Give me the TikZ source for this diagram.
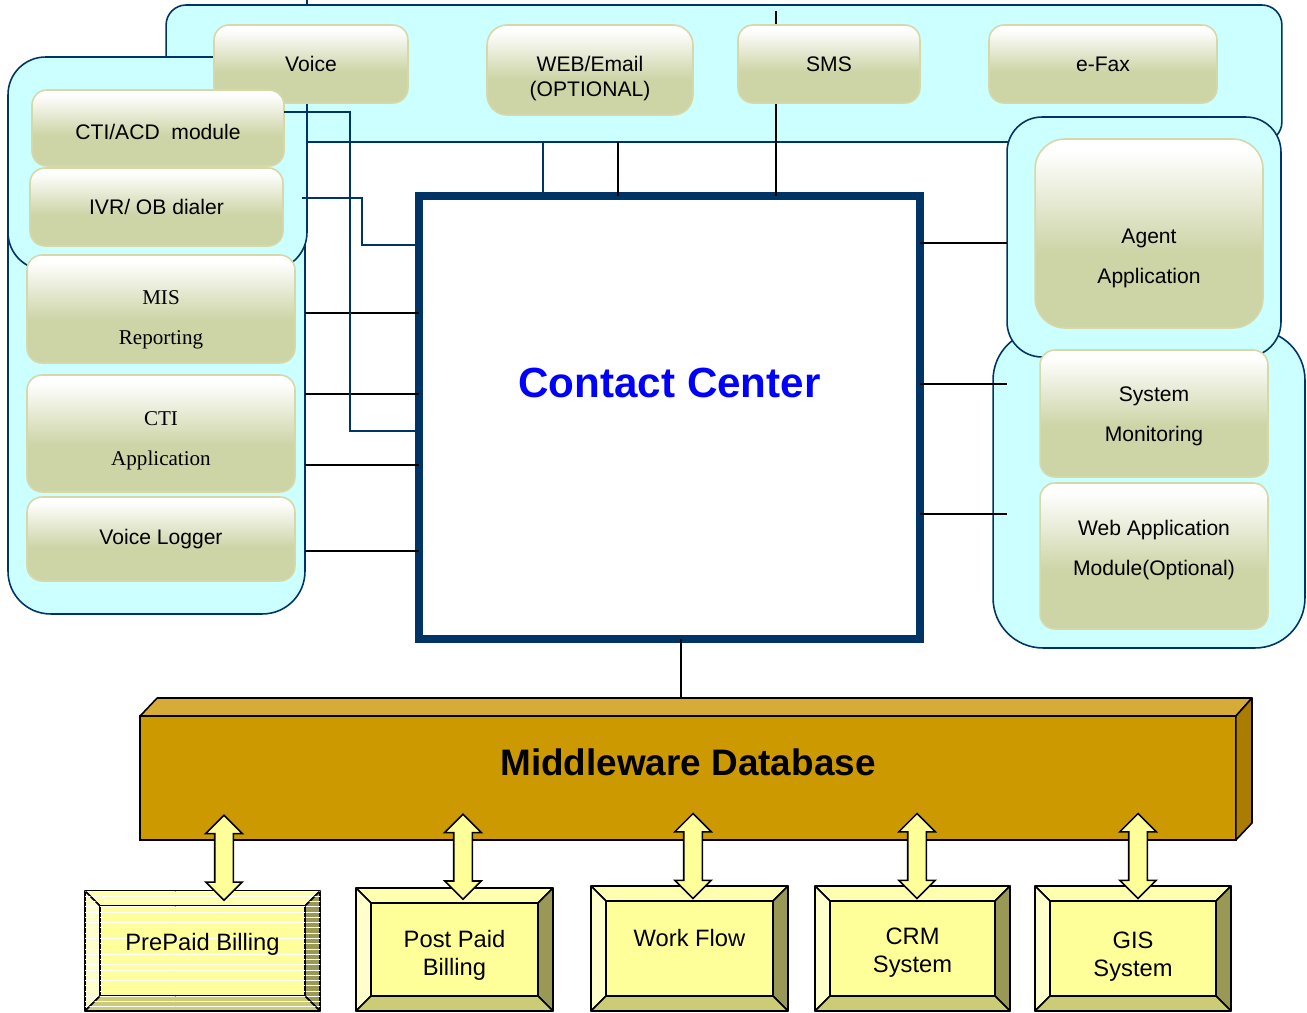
\documentclass[tikz,border=0pt]{standalone}
\usepackage{fontspec}
\setmainfont{Liberation Sans}
\newfontfamily\timesface{Liberation Serif}
\usetikzlibrary{shapes.arrows,patterns}
\definecolor{PanelFill}{HTML}{CCFFFF}
\definecolor{PanelLine}{HTML}{003366}
\definecolor{ModOlive}{HTML}{CDD4A6}
\definecolor{ModLine}{HTML}{D6D8A8}
\definecolor{CCBlue}{HTML}{0000FF}
\definecolor{DbFront}{HTML}{CC9900}
\definecolor{DbTop}{HTML}{D6AB38}
\definecolor{DbSide}{HTML}{AA7D00}
\definecolor{BevTop}{HTML}{FFFFB0}
\definecolor{BevLeft}{HTML}{FFFFCC}
\definecolor{BevRight}{HTML}{999955}
\definecolor{BevBottom}{HTML}{CCCC77}
\definecolor{BevFace}{HTML}{FFFF99}
\pgfdeclareverticalshading{modshade}{100bp}{color(0bp)=(ModOlive); color(45bp)=(ModOlive); color(72bp)=(white); color(100bp)=(white)}

\tikzset{
  panel/.style={draw=PanelLine, fill=PanelFill, line width=0.9pt, inner sep=0pt, outer sep=0pt},
  module/.style={draw=ModLine, line width=0.9pt, shading=modshade, rounded corners=0.3cm,
    inner sep=0pt, outer sep=0pt, align=center, font=\fontsize{12}{14.5}\selectfont},
  short/.style={align=center, font=\fontsize{12}{14.5}\selectfont},
  tall/.style={align=center, font=\fontsize{12}{23}\selectfont},
  serif tall/.style={align=center, font=\timesface\fontsize{12}{23}\selectfont},
  wire/.style={line width=0.8pt},
  bluewire/.style={draw=PanelLine, line width=0.8pt},
  ccbox/.style={draw=PanelLine, line width=4.5pt, fill=white, inner sep=0pt, outer sep=0pt},
  cctitle/.style={text=CCBlue, font=\fontsize{24}{28}\selectfont\bfseries},
  dbfront/.style={draw=black, fill=DbFront, line width=0.9pt, inner sep=0pt, outer sep=0pt},
  dbface/.style={draw=black, line width=0.9pt, line join=round},
  dbtitle/.style={font=\fontsize{21}{25}\selectfont\bfseries},
  bevelbox/.style={inner sep=0pt, outer sep=0pt},
  bevel/.style={draw=black, line width=0.9pt, line join=round},
  stripes/.style={postaction={pattern=horizontal lines, pattern color=white}},
  nostripes/.style={},
  billtext/.style={align=center, font=\fontsize{13.5}{16}\selectfont},
  fatarrow/.style={double arrow, draw=black, fill=BevFace, line width=0.9pt, sloped,
    minimum height=1.7cm, minimum width=0.72cm, text height=0.17cm, text depth=0.17cm,
    double arrow head extend=0.18cm, inner sep=0pt}
}

\begin{document}
\begin{tikzpicture}[x=0.02cm, y=-0.02cm]
    \useasboundingbox (0,0) rectangle (1307,1013);

    % Panels
    \node[panel, rounded corners=0.4cm, minimum width=22.32cm, minimum height=2.74cm] (topbar) at (724,73.5) {};
    \node[panel, rounded corners=0.85cm, minimum width=5.94cm, minimum height=9.28cm] (leftlow) at (156.5,382) {};
    \node[panel, rounded corners=0.75cm, minimum width=5.98cm, minimum height=4.26cm] (leftup) at (157.5,163.5) {};
    \node[panel, rounded corners=1cm, minimum width=6.24cm, minimum height=6.36cm] (rightlow) at (1149,489) {};
    \node[panel, rounded corners=0.7cm, minimum width=5.48cm, minimum height=4.8cm] (rightup) at (1144,237) {};

    % Contact Center
    \node[ccbox, minimum width=10.02cm, minimum height=8.86cm,
        label={[cctitle, yshift=0.69cm]center:Contact Center}] (cc) at (669.5,417.5) {};

    % Wires to the top
    \draw[bluewire] (307,0) -- (topbar.north -| 307,0);
    \draw[wire] (776,11) -- (cc.north -| 776,0);
    \draw[bluewire] (topbar.south -| 543,0) -- (cc.north -| 543,0);
    \draw[wire] (topbar.south -| 618,0) -- (cc.north -| 618,0);

    % Wires on the left
    \coordinate (ivrout) at (302,198);
    \draw[bluewire] (ivrout) -| (362,245) -- (cc.west |- 0,245);
    \draw[wire] (leftlow.east |- 0,313) -- (cc.west |- 0,313);
    \draw[wire] (leftlow.east |- 0,394) -- (cc.west |- 0,394);
    \draw[wire] (leftlow.east |- 0,465) -- (cc.west |- 0,465);
    \draw[wire] (leftlow.east |- 0,551) -- (cc.west |- 0,551);

    % Wires on the right
    \draw[wire] (cc.east |- 0,243) -- (rightup.west |- 0,243);
    \draw[wire] (cc.east |- 0,384) -- (rightup.west |- 0,384);
    \draw[wire] (cc.east |- 0,514) -- (rightup.west |- 0,514);

    % Modules
    \node[module, minimum width=3.88cm, minimum height=1.56cm] (voice) at (311,64) {Voice};
    \node[module, rounded corners=0.4cm, minimum width=4.12cm, minimum height=1.8cm,
        label={[short, yshift=-0.17cm]center:WEB/Email\\(OPTIONAL)}] (web) at (590,70) {};
    \node[module, minimum width=3.64cm, minimum height=1.56cm] (sms) at (829,64) {SMS};
    \node[module, minimum width=4.56cm, minimum height=1.56cm] (efax) at (1103,64) {e-Fax};
    \node[module, minimum width=5.04cm, minimum height=1.52cm,
        label={[short, yshift=-0.07cm]center:CTI/ACD\ \ module}] (ctiacd) at (158,128) {};
    \node[module, minimum width=5.06cm, minimum height=1.56cm] (ivr) at (156.5,207) {IVR/ OB dialer};
    \node[module, minimum width=5.36cm, minimum height=2.16cm,
        label={[serif tall, yshift=-0.22cm]center:MIS\\Reporting}] (mis) at (161,309) {};
    \node[module, minimum width=5.36cm, minimum height=2.34cm,
        label={[serif tall, yshift=-0.14cm]center:CTI\\Application}] (ctiapp) at (161,433.5) {};
    \node[module, minimum width=5.36cm, minimum height=1.68cm] (logger) at (161,539) {Voice Logger};
    \node[module, rounded corners=0.6cm, minimum width=4.56cm, minimum height=3.78cm,
        label={[tall, yshift=-0.5cm]center:Agent\\Application}] (agent) at (1149,233.5) {};
    \node[module, tall, minimum width=4.56cm, minimum height=2.54cm,
        label={[tall, yshift=-0.06cm]center:System\\Monitoring}] (sysmon) at (1154,413.5) {};
    \node[module, minimum width=4.56cm, minimum height=2.92cm,
        label={[tall, yshift=0.12cm]center:Web Application\\Module(Optional)}] (webapp) at (1154,556) {};

    % CTI/ACD link (over the panels)
    \draw[bluewire] (ctiacd.east |- 0,112) -| (350,431) -- (cc.west |- 0,431);

    % Middleware database
    \draw[wire] (cc.south -| 681,0) -- (681,716);
    \node[dbfront, minimum width=21.92cm, minimum height=2.48cm,
        label={[dbtitle, yshift=0.31cm]center:Middleware Database}] (db) at (688,778) {};
    \draw[dbface, fill=DbTop] (db.north west) -- ++(17,-18) -- (1252,698) -- (db.north east) -- cycle;
    \draw[dbface, fill=DbSide] (db.north east) -- (1252,698) -- (1252,823) -- (db.south east) -- cycle;

    % Billing and back-end systems
    \foreach \nm/\cx/\cy/\w/\h/\st/\ty/\txt in {
        prepaid/202.5/951/235/120/stripes/0.14/{PrePaid Billing},
        postpaid/454.5/949.5/197/123/nostripes/-0.11/{Post Paid\\Billing},
        workflow/689.5/948.5/197/125/nostripes/0.21/{Work Flow},
        crm/912.5/948.5/195/125/nostripes/-0.09/{CRM\\System},
        gis/1133/948.5/196/125/nostripes/-0.16/{GIS\\System}}
    {
        \node[bevelbox, minimum width=\w*0.02cm, minimum height=\h*0.02cm] (\nm) at (\cx,\cy) {};
        \path[bevel, fill=BevTop, \st] (\nm.north west) -- (\nm.north east)
            -- ([shift={(-15,15)}]\nm.north east) -- ([shift={(15,15)}]\nm.north west) -- cycle;
        \path[bevel, fill=BevLeft, \st] (\nm.north west) -- ([shift={(15,15)}]\nm.north west)
            -- ([shift={(15,-15)}]\nm.south west) -- (\nm.south west) -- cycle;
        \path[bevel, fill=BevRight, \st] (\nm.north east) -- (\nm.south east)
            -- ([shift={(-15,-15)}]\nm.south east) -- ([shift={(-15,15)}]\nm.north east) -- cycle;
        \path[bevel, fill=BevBottom, \st] (\nm.south west) -- ([shift={(15,-15)}]\nm.south west)
            -- ([shift={(-15,-15)}]\nm.south east) -- (\nm.south east) -- cycle;
        \path[bevel, fill=BevFace, \st] ([shift={(15,15)}]\nm.north west) rectangle ([shift={(-15,-15)}]\nm.south east);
        \node[billtext, yshift=\ty cm] at (\nm) {\txt};
    }

    % Links to the database
    \path (db.south -| 224,0) -- node[fatarrow, pos=0.35] {} (prepaid.north -| 224,0);
    \path (db.south -| 463,0) -- node[fatarrow, pos=0.35] {} (postpaid.north -| 463,0);
    \path (db.south -| 693,0) -- node[fatarrow, pos=0.35] {} (workflow.north -| 693,0);
    \path (db.south -| 917,0) -- node[fatarrow, pos=0.35] {} (crm.north -| 917,0);
    \path (db.south -| 1138,0) -- node[fatarrow, pos=0.35] {} (gis.north -| 1138,0);
\end{tikzpicture}
\end{document}
